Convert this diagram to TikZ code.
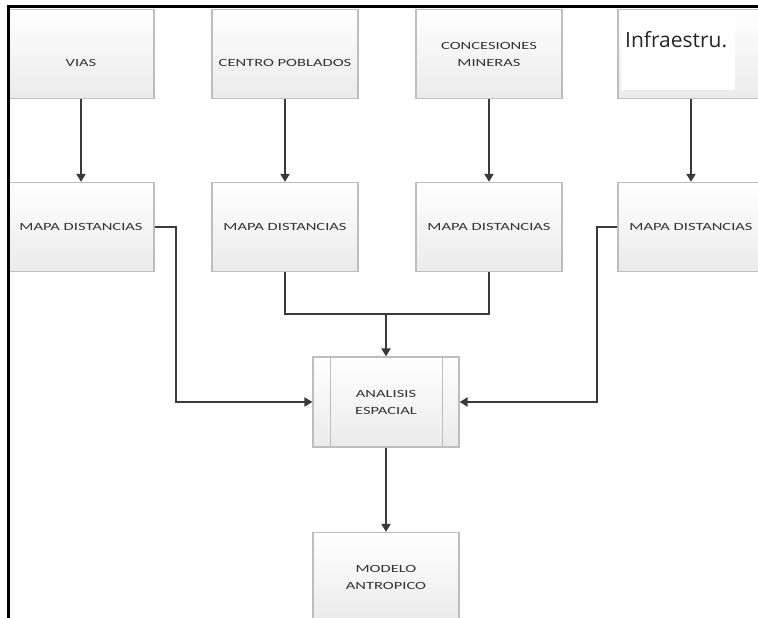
\documentclass[tikz,border=0pt]{standalone}
\usepackage{fontspec}
\newfontfamily\boxfont[FakeStretch=1.5]{Carlito}
\newfontfamily\infrafont{Open Sans}
\usetikzlibrary{arrows.meta}
\definecolor{boxline}{HTML}{BDBDBD}
\definecolor{boxtxt}{HTML}{333333}
\definecolor{arr}{HTML}{3A3A3A}
\tikzset{
 box/.style={draw=boxline, line width=1.2pt, top color=white, bottom color=gray!16,
   minimum width=146pt, minimum height=89pt, inner sep=1pt,
   font=\boxfont\fontsize{11}{17}\selectfont, text=boxtxt, align=center},
 lowtext/.style={text height=25pt, text depth=0pt},
 flow/.style={draw=arr, line width=1.9pt, -{Triangle[length=8pt,width=9pt]}},
 link/.style={draw=arr, line width=1.9pt},
 procline/.style={draw=boxline, line width=1.2pt},
}
\begin{document}
\begin{tikzpicture}[x=1pt,y=-1pt]
\useasboundingbox (0,0) rectangle (758,618);
\clip (0,0) rectangle (758,618);
% top row
\node[box, lowtext] (vias) at (81,54) {VIAS};
\node[box, lowtext] (centro) at (285,54) {CENTRO POBLADOS};
\node[box] (conc) at (489,54) {CONCESIONES\\MINERAS};
\node[box] (infra) at (691,54) {};
\fill[white] (621,18) rectangle (735,90);
\node[anchor=base west, inner sep=0pt, font=\infrafont\fontsize{21}{21}\selectfont, text=black!85] (infraT) at (625,48) {Infraestru.};
% second row
\node[box] (map1) at (81,227) {MAPA DISTANCIAS};
\node[box] (map2) at (285,227) {MAPA DISTANCIAS};
\node[box] (map3) at (489,227) {MAPA DISTANCIAS};
\node[box] (map4) at (691,227) {MAPA DISTANCIAS};
% analysis
\node[box, minimum height=90pt] (anal) at (386,402) {ANALISIS\\ESPACIAL};
\draw[procline] ([xshift=18pt]anal.north west) -- ([xshift=18pt]anal.south west);
\draw[procline] ([xshift=-17pt]anal.north east) -- ([xshift=-17pt]anal.south east);
\node[box] (mod) at (386,577) {MODELO\\ANTROPICO};
% connectors
\draw[flow] (vias) -- (map1);
\draw[flow] (centro) -- (map2);
\draw[flow] (conc) -- (map3);
\draw[flow] (infra) -- (map4);
\coordinate (j) at (386,314);
\draw[link] (map2.south) |- (j) -| (map3.south);
\draw[flow] (j) -- (anal.north);
\draw[flow] (map1.east) -- ++(21,0) |- (anal.west);
\draw[flow] (map4.west) -- ++(-20,0) |- (anal.east);
\draw[flow] (anal) -- (mod);
% frame
\draw[line width=3pt] (758,6.5) -- (8.5,6.5) -- (8.5,618);
\end{tikzpicture}
\end{document}
